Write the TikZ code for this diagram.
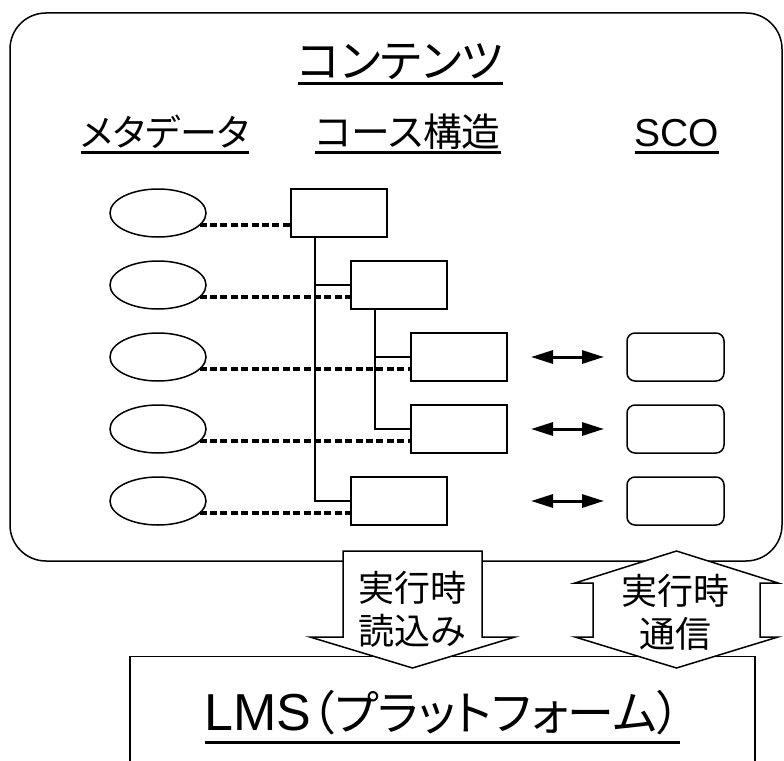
\documentclass[tikz,border=0pt]{standalone}
\usepackage{fontspec}
\setmainfont{Liberation Sans}
\newfontfamily\jp[RawFeature=+palt]{Noto Sans CJK JP}
\usetikzlibrary{shapes.geometric,arrows.meta,calc}

\begin{document}
\begin{tikzpicture}[x=1pt,y=-1pt,
  meta/.style={ellipse,draw,line width=1.5pt,minimum width=96pt,minimum height=48pt,inner sep=0pt,outer sep=0pt},
  item/.style={rectangle,draw,line width=1.6pt,minimum width=96pt,minimum height=48pt,inner sep=0pt,outer sep=0pt},
  sco/.style={rectangle,rounded corners=8pt,draw,line width=1.5pt,minimum width=97pt,minimum height=48pt,inner sep=0pt,outer sep=0pt},
  link/.style={line width=3.4pt,dash pattern=on 7pt off 3.4pt},
  tree/.style={line width=1.6pt},
  comm/.style={line width=3pt,{Triangle[length=22pt,width=13pt]}-{Triangle[length=22pt,width=13pt]}},
  heading/.style={inner sep=0pt,outer sep=0pt,anchor=base},
  uline/.style={line width=3.5pt},
  blockarrow/.style={draw,fill=white,line width=1.5pt,line join=miter},
  arrowtext/.style={align=center,inner sep=0pt,font=\jp\fontsize{36}{43}\selectfont},
]
\clip (0,0) rectangle (784,760);

% contents frame
\draw[line width=1.5pt,rounded corners=36pt] (10,13) rectangle (782,561);

% headings
\node[heading,font=\jp\fontsize{45}{52}\selectfont] (tc) at (400.5,77.3) {コンテンツ};
\node[heading,font=\jp\fontsize{37}{44}\selectfont] (tm) at (165,146.7) {メタデータ};
\node[heading,font=\jp\fontsize{38.8}{45}\selectfont] (ts) at (407.9,146.7) {コース構造};
\node[heading,font=\fontsize{39}{45}\selectfont] (tsco) at (676.9,146.7) {SCO};
\foreach \t in {tc,tm,ts,tsco}
  \draw[uline] ([yshift=-6pt]\t.base west) -- ([yshift=-6pt]\t.base east);

% metadata
\foreach \i/\y in {1/213,2/285,3/357,4/429,5/501}
  \node[meta] (e\i) at (158,\y) {};

% course structure
\node[item] (b1) at (339,213) {};
\node[item] (b2) at (399,285) {};
\node[item] (b3) at (459,357) {};
\node[item] (b4) at (459,429) {};
\node[item] (b5) at (399,501) {};

% SCOs
\node[sco] (s1) at (675.5,357) {};
\node[sco] (s2) at (675.5,429) {};
\node[sco] (s3) at (675.5,501) {};

% tree
\draw[tree] ($(b1.south west)!0.25!(b1.south east)$) coordinate (t1) |- (b5.west);
\draw[tree] (t1 |- b2.west) -- (b2.west);
\draw[tree] ($(b2.south west)!0.25!(b2.south east)$) coordinate (t2) |- (b4.west);
\draw[tree] (t2 |- b3.west) -- (b3.west);

% metadata links
\foreach \i in {1,...,5}
  \draw[link] (e\i.-16.1) -- (e\i.-16.1 -| b\i.west);

% run-time communication
\draw[comm] ($(b3.east)+(24,0)$) -- ($(s1.west)+(-23,0)$);
\draw[comm] ($(b4.east)+(24,0)$) -- ($(s2.west)+(-23,0)$);
\draw[comm] ($(b4.east |- s3.west)+(24,0)$) -- ($(s3.west)+(-23,0)$);

% LMS
\draw[line width=1.5pt] (130,800) -- (130,656.7) -- (755,656.7) -- (755,800);
\node[heading,font=\fontsize{52}{58}\selectfont] (lms) at (442.5,730) {LMS{\jp\fontsize{47}{54}\selectfont （プラットフォーム）}};
\draw[uline] ([yshift=-12.5pt]lms.base west) -- ([yshift=-12.5pt]lms.base east);

% block arrows
\draw[blockarrow] (343,551) -- (482,551) -- (482,637) -- (515,637) -- (412.5,668)
  -- (310,637) -- (343,637) -- cycle;
\node[arrowtext] (load) at (412.5,609) {実行時\\読込み};

\draw[blockarrow] (676.5,551) -- (778,583) -- (760,583) -- (760,637) -- (778,637)
  -- (676.5,668) -- (575,637) -- (593,637) -- (593,583) -- (575,583) -- cycle;
\node[arrowtext] (talk) at (675,612) {実行時\\通信};
\end{tikzpicture}
\end{document}
